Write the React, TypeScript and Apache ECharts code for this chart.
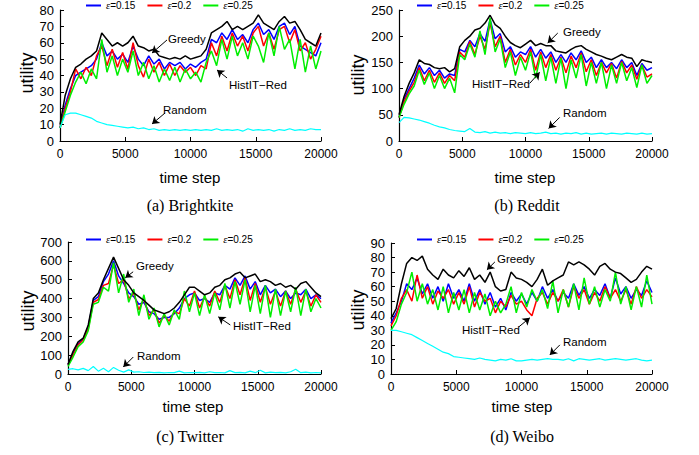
import React, { useEffect, useRef } from "react";
import * as echarts from "echarts";

// time steps sampled every 400
const STEPS = Array.from({ length: 51 }, (_, i) => i * 400);

// (a) Brightkite
const A_GREEDY = [10,28,38,45,47,50,52,55,66,62, 58,60,58,60,64,58,57,55,56,52, 51,50,51,50,52,50,51,52,56,66, 68,70,73,68,70,68,70,72,77,72, 70,68,73,76,72,73,68,62,60,58, 66];
const A_E15 = [8,22,32,40,42,44,46,50,60,52, 55,50,53,48,58,50,46,52,47,50, 44,48,46,48,44,47,45,48,50,62, 60,66,62,68,62,65,60,68,72,65, 68,62,70,72,65,70,58,56,54,52, 60];
const A_E20 = [8,20,30,44,38,45,40,52,58,46, 56,45,54,44,60,46,39,50,42,48, 40,47,40,46,42,45,40,46,44,60, 52,64,55,66,58,64,55,66,70,58, 66,56,68,70,60,68,55,60,50,56, 64];
const A_E25 = [8,18,28,36,42,35,44,38,62,42, 52,40,50,42,55,40,48,38,46,36, 44,37,45,36,44,38,42,36,48,55, 46,62,50,64,52,60,50,64,58,48, 66,52,70,56,62,44,62,42,58,44, 55];
const A_RANDOM = [8,16,17,17,16,15,14,12,11,10, 9.5,9,8.5,8,8.5,7.5,8,7,7.5,6.5, 7,6.5,7,6.5,7,6.5,7,6.5,7,6.5, 7.5,6.5,7,6.5,7,6,7.5,6.5,7,6.5, 7,6,7,6.5,7.5,6.5,7,6.5,7.5,7, 7];

// (b) Reddit
const B_GREEDY = [50,85,110,130,155,148,146,140,138,140, 132,138,180,192,200,212,215,225,240,222, 215,200,188,182,178,185,192,182,186,182, 182,172,170,168,175,180,182,175,170,165, 162,158,155,160,165,160,158,142,155,152, 150];
const B_E15 = [45,80,100,120,145,128,140,125,135,120, 128,125,175,170,192,180,205,190,232,195, 205,170,180,160,170,165,180,160,175,158, 170,150,165,150,168,155,172,150,160,140, 155,140,150,138,155,140,150,125,148,135, 140];
const B_E20 = [45,75,95,112,140,115,135,112,130,110, 125,115,170,160,190,165,200,175,225,180, 200,150,175,145,165,150,175,135,170,140, 165,135,160,130,162,140,168,132,155,125, 150,130,148,120,152,130,145,118,145,122, 128];
const B_E25 = [45,70,90,105,135,108,130,100,125,100, 120,92,165,155,185,160,210,165,235,170, 195,140,170,125,160,135,170,120,165,115, 160,110,158,100,155,120,165,105,150,110, 150,100,145,110,150,115,140,102,145,110, 125];
const B_RANDOM = [35,45,44,42,40,37,34,30,27,25, 22,20,19,18,24,17,16,18,15,17, 15,16,14,16,15,14,16,14,15,17, 14,15,13,15,14,16,13,15,13,14, 15,13,15,14,13,15,14,13,15,13, 14];

// (c) Twitter
const C_GREEDY = [50,120,170,190,260,400,430,500,560,620, 560,500,470,430,410,390,365,340,330,320, 330,350,380,420,460,460,440,420,430,460, 470,500,510,530,540,510,520,530,490,500, 490,470,480,460,470,450,480,490,460,430, 410];
const C_E15 = [50,110,160,185,250,390,410,490,530,600, 520,480,430,410,370,380,330,320,290,300, 300,320,350,400,420,430,390,400,380,430, 420,470,450,510,470,520,450,490,420,470, 430,450,410,440,400,430,420,450,400,420, 400];
const C_E20 = [50,100,155,180,240,380,395,470,480,580, 480,500,400,430,340,400,310,340,270,310, 280,330,320,400,360,440,350,410,360,440, 380,470,400,500,420,510,390,480,380,460, 370,440,360,440,370,450,380,440,360,420, 380];
const C_E25 = [40,90,145,170,230,370,380,460,440,590, 430,530,380,450,310,420,290,350,250,320, 260,340,290,440,330,430,310,420,320,430, 340,480,350,490,370,500,330,470,320,470, 300,450,310,440,330,460,310,450,330,400, 350];
const C_RANDOM = [25,28,22,30,18,40,15,30,12,35, 20,10,22,10,12,8,10,7,9,6, 8,7,15,6,8,7,9,6,12,7, 8,6,18,7,9,6,15,7,20,6, 10,7,9,6,12,25,7,10,6,8, 6];

// (d) Weibo
const D_GREEDY = [38,45,62,76,80,78,81,72,68,65, 72,68,66,71,67,73,65,68,63,70, 60,57,58,70,66,65,63,60,65,72, 61,64,66,68,77,75,77,75,72,68, 74,76,72,70,69,66,63,65,70,74, 72];
const D_E15 = [35,42,50,62,58,66,55,62,52,60, 50,62,52,58,50,62,50,58,48,56, 46,52,44,56,50,55,48,56,50,60, 52,58,50,56,52,62,54,60,52,58, 54,62,52,66,55,60,52,58,54,64, 56];
const D_E20 = [33,40,52,58,50,68,52,60,48,57, 52,58,48,56,48,60,46,56,50,52, 42,50,46,54,48,50,44,40,52,56, 48,56,50,58,46,60,52,58,48,56, 50,60,52,58,50,58,48,60,52,58, 53];
const D_E25 = [30,36,48,56,70,50,62,48,58,44, 60,42,56,44,58,42,56,44,55,40, 50,42,48,60,42,56,46,58,50,58, 45,64,42,58,46,62,44,66,48,60, 46,58,50,70,48,60,44,60,46,68, 48];
const D_RANDOM = [30,30,29,28,27,25,23,21,19,17, 15,14,12,11.5,11,10.5,10,11,10,9.5, 9,10,9.5,10.5,9,9,9.5,10,9.5,10, 10.5,10,10,9.5,10.5,9,10.5,10,9.5,10, 10.5,9.5,10,10.5,10,9.5,10,10.5,9.5,9, 9.5];

const SERIES_NAMES = ["ε=0.15", "ε=0.2", "ε=0.25"];
const X_TICKS_MAX = 20000;
const Y_MAX = [80, 250, 700, 90];
const Y_INTERVAL = [10, 50, 100, 10];
const CAPTIONS = ["(a) Brightkite", "(b) Reddit", "(c) Twitter", "(d) Weibo"];

// annotation arrows [tailX, tailY, headX, headY] in data coordinates
const ARROWS = [
  [[8200, 61.7, 7050, 53.7], [12800, 38.5, 12030, 43.4], [8050, 17.1, 7050, 10.4]],
  [[12550, 206, 11755, 187], [10330, 110, 11120, 131], [12700, 45, 11830, 24]],
  [[5150, 542, 4525, 510], [12830, 260, 11880, 303], [5160, 90, 4370, 37]],
  [[7960, 77, 7350, 71.6], [9800, 32.4, 10640, 38.6], [12940, 20, 12170, 13.1]],
];
const ANNOT_TEXT = ["Greedy", "HistIT\u2212Red", "Random"];

const PANELS = [
  { g: A_GREEDY, e: [A_E15, A_E20, A_E25], r: A_RANDOM },
  { g: B_GREEDY, e: [B_E15, B_E20, B_E25], r: B_RANDOM },
  { g: C_GREEDY, e: [C_E15, C_E20, C_E25], r: C_RANDOM },
  { g: D_GREEDY, e: [D_E15, D_E20, D_E25], r: D_RANDOM },
];

// layout
const GRIDS = [
  { left: 60, top: 10, width: 261, height: 131 },
  { left: 399, top: 10, width: 253, height: 131 },
  { left: 68, top: 242, width: 253, height: 132 },
  { left: 391, top: 243, width: 261, height: 131 },
];
const LEGEND_POS = [
  { left: 86, top: 0 },
  { left: 417, top: 0 },
  { left: 86, top: 234 },
  { left: 417, top: 234 },
];
const UTIL_POS = [[27, 73], [358, 75], [28, 311], [358, 310]];
const TIMESTEP_POS = [[190, 177], [525, 177], [193, 406], [522, 406]];
const CAPTION_POS = [[190, 205], [527, 205], [190, 436], [522, 436]];
const ANNOT_POS = [
  [[168, 39], [229, 85], [163, 110]],
  [[563, 32], [472, 84], [563, 113]],
  [[136, 266], [233, 326], [137, 356]],
  [[497, 259], [462, 330], [563, 342]],
];

const FONT = "Liberation Sans, Arial, sans-serif";
const SERIF = "Liberation Serif, Times New Roman, serif";
const COLORS = ["#0000ff", "#ff0000", "#00ee00"];

function pairs(ys: number[]) {
  return STEPS.map((s, i) => [s, ys[i]]);
}

function buildOption() {
  const grid = GRIDS.map((g) => ({ ...g, containLabel: false }));
  const xAxis = GRIDS.map((_, i) => ({
    gridIndex: i,
    type: "value",
    min: 0,
    max: X_TICKS_MAX,
    interval: 5000,
    axisLine: { show: true, onZero: false, lineStyle: { color: "#000", width: 1.2 } },
    axisTick: { show: true, inside: true, length: 4, lineStyle: { color: "#000", width: 1 } },
    axisLabel: { color: "#000", fontSize: 12, fontFamily: FONT, margin: 7, formatter: (v: number) => String(v) },
    splitLine: { show: false },
  }));
  const yAxis = GRIDS.map((_, i) => ({
    gridIndex: i,
    type: "value",
    min: 0,
    max: Y_MAX[i],
    interval: Y_INTERVAL[i],
    axisLine: { show: true, onZero: false, lineStyle: { color: "#000", width: 1.2 } },
    axisTick: { show: true, inside: true, length: 4, lineStyle: { color: "#000", width: 1 } },
    axisLabel: { color: "#000", fontSize: 13, fontFamily: FONT, margin: 6, formatter: (v: number) => String(v) },
    splitLine: { show: false },
  }));

  const series: any[] = [];
  PANELS.forEach((p, i) => {
    p.e.forEach((ys, k) => {
      series.push({
        type: "line",
        name: SERIES_NAMES[k],
        xAxisIndex: i,
        yAxisIndex: i,
        data: pairs(ys),
        symbol: "none",
        showSymbol: false,
        lineStyle: { color: COLORS[k], width: 1.5 },
        itemStyle: { color: COLORS[k] },
        z: 2 + k,
      });
    });
    series.push({
      type: "line",
      name: "Greedy",
      xAxisIndex: i,
      yAxisIndex: i,
      data: pairs(p.g),
      symbol: "none",
      showSymbol: false,
      lineStyle: { color: "#000", width: 1.5 },
      itemStyle: { color: "#000" },
      z: 6,
      markLine: {
        silent: true,
        symbol: ["none", "arrow"],
        symbolSize: 7,
        label: { show: false },
        lineStyle: { color: "#000", width: 1, type: "solid" },
        data: ARROWS[i].map((a) => [
          { coord: [a[0], a[1]] },
          { coord: [a[2], a[3]] },
        ]),
      },
    });
    series.push({
      type: "line",
      name: "Random",
      xAxisIndex: i,
      yAxisIndex: i,
      data: pairs(p.r),
      symbol: "none",
      showSymbol: false,
      lineStyle: { color: "#00ffff", width: 1.2 },
      itemStyle: { color: "#00ffff" },
      z: 7,
    });
  });

  const legend = LEGEND_POS.map((pos) => ({
    ...pos,
    orient: "horizontal",
    padding: 0,
    itemGap: 12,
    itemWidth: 15,
    itemHeight: 2,
    icon: "rect",
    data: SERIES_NAMES,
    selectedMode: false,
    formatter: (n: string) => "{e|ε}" + n.slice(1),
    textStyle: {
      fontSize: 10,
      fontFamily: FONT,
      color: "#000",
      rich: { e: { fontStyle: "italic", fontFamily: SERIF, fontSize: 10.5, color: "#000" } },
    },
  }));

  const graphic: any[] = [];
  UTIL_POS.forEach(([x, y]) =>
    graphic.push({
      type: "text",
      x,
      y,
      rotation: Math.PI / 2,
      style: { text: "utility", font: `18px ${FONT}`, fill: "#000", align: "center", verticalAlign: "middle" },
    })
  );
  TIMESTEP_POS.forEach(([x, y]) =>
    graphic.push({
      type: "text",
      x,
      y,
      style: { text: "time step", font: `15px ${FONT}`, fill: "#000", align: "center", verticalAlign: "middle" },
    })
  );
  CAPTION_POS.forEach(([x, y], i) =>
    graphic.push({
      type: "text",
      x,
      y,
      style: { text: CAPTIONS[i], font: `16px ${SERIF}`, fill: "#000", align: "center", verticalAlign: "middle" },
    })
  );
  ANNOT_POS.forEach((row) =>
    row.forEach(([x, y], k) =>
      graphic.push({
        type: "text",
        x,
        y,
        z: 100,
        style: { text: ANNOT_TEXT[k], font: `11.5px ${FONT}`, fill: "#000", align: "left", verticalAlign: "middle" },
      })
    )
  );

  return {
    animation: false,
    backgroundColor: "#fff",
    grid,
    xAxis,
    yAxis,
    legend,
    series,
    graphic,
  };
}

export default function App() {
  const ref = useRef<HTMLDivElement>(null);
  useEffect(() => {
    if (!ref.current) return;
    const chart = echarts.init(ref.current, null, { renderer: "svg", width: 699, height: 455 });
    chart.setOption(buildOption() as any);
    return () => chart.dispose();
  }, []);
  return (
    <div
      ref={ref}
      style={{ position: "fixed", left: 0, top: 0, width: 699, height: 455, background: "#fff" }}
    />
  );
}
